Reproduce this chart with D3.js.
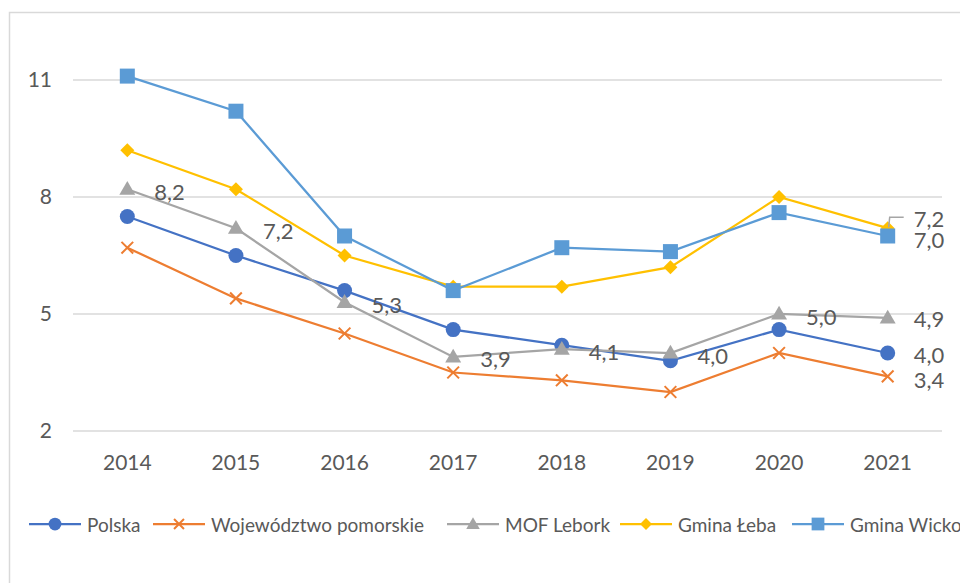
<!DOCTYPE html>
<html>
<head>
<meta charset="utf-8">
<script src="https://cdn.jsdelivr.net/npm/d3@7"></script>
<style>
  body { margin: 0; background: #fff; }
  svg { display: block; font-family: Lato, "Open Sans", sans-serif; }
</style>
</head>
<body>
<svg id="chart" width="960" height="583"></svg>
<script>
const years = ['2014', '2015', '2016', '2017', '2018', '2019', '2020', '2021']
const yTicks = [2, 5, 8, 11]

const polska = [7.5, 6.5, 5.6, 4.6, 4.2, 3.8, 4.6, 4.0]
const pomorskie = [6.7, 5.4, 4.5, 3.5, 3.3, 3.0, 4.0, 3.4]
const mofLebork = [8.2, 7.2, 5.3, 3.9, 4.1, 4.0, 5.0, 4.9]
const leba = [9.2, 8.2, 6.5, 5.7, 5.7, 6.2, 8.0, 7.2]
const wicko = [11.1, 10.2, 7.0, 5.6, 6.7, 6.6, 7.6, 7.0]

const seriesNames = ['Polska', 'Województwo pomorskie', 'MOF Lebork', 'Gmina Łeba', 'Gmina Wicko']
const seriesColors = ['#4472C4', '#ED7D31', '#A5A5A5', '#FFC000', '#5B9BD5']
const seriesMarkers = ['circle', 'cross', 'triangle', 'diamond', 'square']
const seriesValues = [polska, pomorskie, mofLebork, leba, wicko]

const textColor = '#595959'
const gridColor = '#D9D9D9'

const svg = d3.select('#chart')

// outer frame of the chart area
svg.append('rect')
    .attr('x', 9.5)
    .attr('y', 12.5)
    .attr('width', 1000)
    .attr('height', 700)
    .attr('fill', 'none')
    .attr('stroke', gridColor)
    .attr('stroke-width', 1.5)

const plotLeft = 73
const plotRight = 942

const x = d3.scaleBand()
    .domain(years)
    .range([plotLeft, plotRight])

const y = d3.scaleLinear()
    .domain([2, 11])
    .range([431, 80])

const cx = d => x(d) + x.bandwidth() / 2

// gridlines
svg.append('g')
    .selectAll('line')
    .data(yTicks)
    .enter().append('line')
        .attr('x1', plotLeft)
        .attr('x2', plotRight)
        .attr('y1', d => y(d))
        .attr('y2', d => y(d))
        .attr('stroke', gridColor)
        .attr('stroke-width', 1.5)

// y axis labels
const yAxis = d3.axisLeft(y).tickValues(yTicks).tickSize(0).tickPadding(0)
const yAxisG = svg.append('g')
    .attr('transform', 'translate(52,0)')
    .call(yAxis)
yAxisG.select('.domain').remove()
yAxisG.selectAll('text')
    .attr('fill', textColor)
    .style('font-size', '21px')
    .style('font-family', 'Lato, sans-serif')

// x axis labels
const xAxis = d3.axisBottom(x).tickSize(0).tickPadding(0)
const xAxisG = svg.append('g')
    .attr('transform', 'translate(0,453)')
    .call(xAxis)
xAxisG.select('.domain').remove()
xAxisG.selectAll('text')
    .attr('fill', textColor)
    .attr('dy', '0.35em')
    .attr('y', 10)
    .style('font-size', '21px')
    .style('font-family', 'Lato, sans-serif')

function drawMarker(g, type, color, size) {
    if (type === 'circle') {
        g.append('circle').attr('r', size * 0.5).attr('fill', color)
    } else if (type === 'square') {
        g.append('rect')
            .attr('x', -size / 2).attr('y', -size / 2)
            .attr('width', size).attr('height', size)
            .attr('fill', color)
    } else if (type === 'triangle') {
        g.append('path')
            .attr('d', d3.symbol().type(d3.symbolTriangle).size(size * size * 0.43)())
            .attr('transform', 'translate(0,1)')
            .attr('fill', color)
    } else if (type === 'diamond') {
        const h = size * 0.5
        g.append('path')
            .attr('d', `M0,${-h}L${h},0L0,${h}L${-h},0Z`)
            .attr('fill', color)
    } else if (type === 'cross') {
        const h = size * 0.45
        g.append('path')
            .attr('d', `M${-h},${-h}L${h},${h}M${-h},${h}L${h},${-h}`)
            .attr('stroke', color)
            .attr('stroke-width', 2)
            .attr('fill', 'none')
    }
}

const markerSizes = { circle: 15, cross: 13, triangle: 16, diamond: 14, square: 15 }

const line = d3.line()
    .x((d, i) => cx(years[i]))
    .y(d => y(d))

// draw series in order
seriesValues.forEach((vals, si) => {
    const color = seriesColors[si]
    const g = svg.append('g').attr('class', 'series')
    g.append('path')
        .datum(vals)
        .attr('d', line)
        .attr('fill', 'none')
        .attr('stroke', color)
        .attr('stroke-width', 2.25)
    vals.forEach((v, i) => {
        const mg = g.append('g').attr('transform', `translate(${cx(years[i])},${y(v)})`)
        drawMarker(mg, seriesMarkers[si], color, markerSizes[seriesMarkers[si]])
    })
})

const fmt = v => d3.format('.1f')(v).replace('.', ',')

// MOF Lebork data labels (all but last)
const labelG = svg.append('g')
    .style('font-size', '22px')
    .attr('fill', textColor)

mofLebork.slice(0, -1).forEach((v, i) => {
    labelG.append('text')
        .attr('x', cx(years[i]) + 27)
        .attr('y', y(v) + 2)
        .attr('dominant-baseline', 'central')
        .text(fmt(v))
})

// labels for the last year of every series
const last = years.length - 1
const lastX = cx(years[last])
seriesValues.forEach((vals, si) => {
    const v = vals[last]
    let ly = y(v) + 1
    if (seriesNames[si] === 'Gmina Łeba') {
        ly = y(v) - 10
        svg.append('path')
            .attr('d', `M${lastX + 1},${y(v) - 1}L${lastX + 2},${ly - 1}L${lastX + 16},${ly - 1}`)
            .attr('fill', 'none')
            .attr('stroke', '#A5A5A5')
            .attr('stroke-width', 1.5)
    }
    if (seriesNames[si] === 'Gmina Wicko') ly = y(v) + 3
    if (seriesNames[si] === 'Województwo pomorskie') ly = y(v) + 3
    labelG.append('text')
        .attr('x', lastX + 26)
        .attr('y', ly)
        .attr('dominant-baseline', 'central')
        .text(fmt(v))
})

// legend: item start positions follow the original layout
const legendY = 524
const legendStarts = [29, 153, 447, 620, 792]
const legend = svg.append('g').style('font-size', '19px')
seriesNames.forEach((name, si) => {
    const color = seriesColors[si]
    const item = legend.append('g').attr('transform', `translate(${legendStarts[si]},${legendY})`)
    item.append('line')
        .attr('x1', 0).attr('x2', 52)
        .attr('stroke', color)
        .attr('stroke-width', 2.25)
    const mg = item.append('g').attr('transform', 'translate(26,0)')
    drawMarker(mg, seriesMarkers[si], color, markerSizes[seriesMarkers[si]] * 0.85)
    item.append('text')
        .attr('x', 58)
        .attr('dominant-baseline', 'central')
        .attr('fill', textColor)
        .text(name)
})
</script>
</body>
</html>
